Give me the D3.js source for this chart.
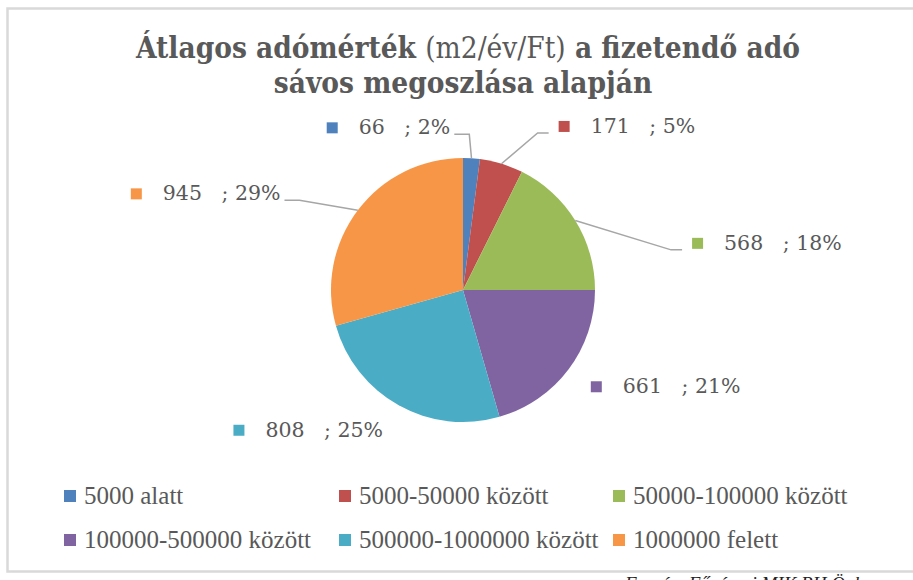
<!DOCTYPE html>
<html>
<head>
<meta charset="utf-8">
<script src="https://cdn.jsdelivr.net/npm/d3@7"></script>
<style>
  body { margin: 0; background: #fff; }
  svg { display: block; }
</style>
</head>
<body>
<div id="chart"></div>
<script>
const width = 913;
const height = 580;

// data
const categories = ["5000 alatt", "5000-50000 között", "50000-100000 között",
  "100000-500000 között", "500000-1000000 között", "1000000 felett"];
const values = [66, 171, 568, 661, 808, 945];
const percentLabels = ["2%", "5%", "18%", "21%", "25%", "29%"];
const colors = ["#4F81BD", "#C0504D", "#9BBB59", "#8064A2", "#4BACC6", "#F79646"];

// Excel "best fit" nudges for the data labels, and which ones get a leader line
const labelNudge = [[-23, -3], [49, -11], [93, 37], [0, 0], [-2, 0], [-55, 0]];
const hasLeader = [true, true, true, false, false, true];

const textColor = "#595959";
const serif = "'DejaVu Serif', serif";

const svg = d3.select("#chart")
  .append("svg")
  .attr("width", width)
  .attr("height", height);

// chart frame
svg.append("rect")
  .attr("x", 7.5)
  .attr("y", 8.5)
  .attr("width", 930)
  .attr("height", 563)
  .attr("fill", "#fff")
  .attr("stroke", "#d9d9d9")
  .attr("stroke-width", 2.5);

// title
const title = svg.append("text")
  .attr("text-anchor", "middle")
  .attr("fill", textColor)
  .style("font-family", serif)
  .style("font-stretch", "condensed")
  .style("font-size", "29.5px");

const line1 = title.append("tspan").attr("x", 468).attr("y", 58);
line1.append("tspan").attr("font-weight", "bold").text("Átlagos adómérték ");
line1.append("tspan").text("(m2/év/Ft)");
line1.append("tspan").attr("font-weight", "bold").text(" a fizetendő adó");
title.append("tspan").attr("x", 463).attr("y", 93)
  .attr("font-weight", "bold").text("sávos megoszlása alapján");

// pie
const cx = 463, cy = 290, radius = 132;
const color = d3.scaleOrdinal().domain(categories).range(colors);

const pie = d3.pie().sort(null).value(d => d.value);
const rows = categories.map((c, i) => ({ name: c, value: values[i], pct: percentLabels[i], i }));
const arcs = pie(rows);
const arc = d3.arc().innerRadius(0).outerRadius(radius);

const g = svg.append("g").attr("transform", `translate(${cx},${cy})`);

g.selectAll("path.slice")
  .data(arcs)
  .enter()
  .append("path")
  .attr("class", "slice")
  .attr("d", arc)
  .attr("fill", d => color(d.data.name));

// data labels
const polar = (a, r) => [r * Math.sin(a), -r * Math.cos(a)];

arcs.forEach(d => {
  const i = d.data.i;
  const mid = (d.startAngle + d.endAngle) / 2;
  const p = polar(mid, 160);
  const ax = p[0] + labelNudge[i][0];
  const ay = p[1] + labelNudge[i][1];
  const side = ax < 0 ? "end" : "start";

  const lab = g.append("g");
  lab.append("rect")
    .attr("x", 0).attr("y", -5)
    .attr("width", 11).attr("height", 11)
    .attr("fill", color(d.data.name));
  lab.append("text")
    .attr("x", 32)
    .attr("y", 7)
    .attr("fill", textColor)
    .style("font-family", serif)
    .style("font-size", "20.5px")
    .style("white-space", "pre")
    .text(`${d.data.value}   ; ${d.data.pct}`);

  const w = lab.node().getBBox().width;
  const lx = side === "start" ? ax : ax - w;
  lab.attr("transform", `translate(${lx},${ay})`);

  if (hasLeader[i]) {
    const edge = polar(mid, radius);
    const ly = ay + 7;
    const x0 = side === "start" ? ax - 10 : ax + 4;
    const x1 = side === "start" ? x0 - 11 : x0 + 15;
    g.insert("path", "g")
      .attr("d", d3.line()([[x0, ly], [x1, ly], edge]))
      .attr("fill", "none")
      .attr("stroke", "#a6a6a6")
      .attr("stroke-width", 1.5);
  }
});

// legend
const legendCols = [64, 339, 613];
const legendRows = [496, 540];

const legendItem = svg.selectAll(".legend-item")
  .data(categories)
  .enter()
  .append("g")
  .attr("class", "legend-item")
  .attr("transform", (d, i) => `translate(${legendCols[i % 3]},${legendRows[Math.floor(i / 3)]})`);

legendItem.append("rect")
  .attr("x", 0).attr("y", -6)
  .attr("width", 12).attr("height", 12)
  .attr("fill", d => color(d));

legendItem.append("text")
  .attr("x", 20)
  .attr("y", 8)
  .attr("fill", textColor)
  .style("font-family", "'Liberation Serif', serif")
  .style("font-size", "25px")
  .text(d => d);

// source note, cut by the bottom of the picture
svg.append("text")
  .attr("x", 625)
  .attr("y", 590)
  .attr("fill", "#222")
  .style("font-family", "'Liberation Serif', serif")
  .style("font-style", "italic")
  .style("font-size", "19px")
  .text("Forrás: Fővárosi MIK BH Önk.");
</script>
</body>
</html>
